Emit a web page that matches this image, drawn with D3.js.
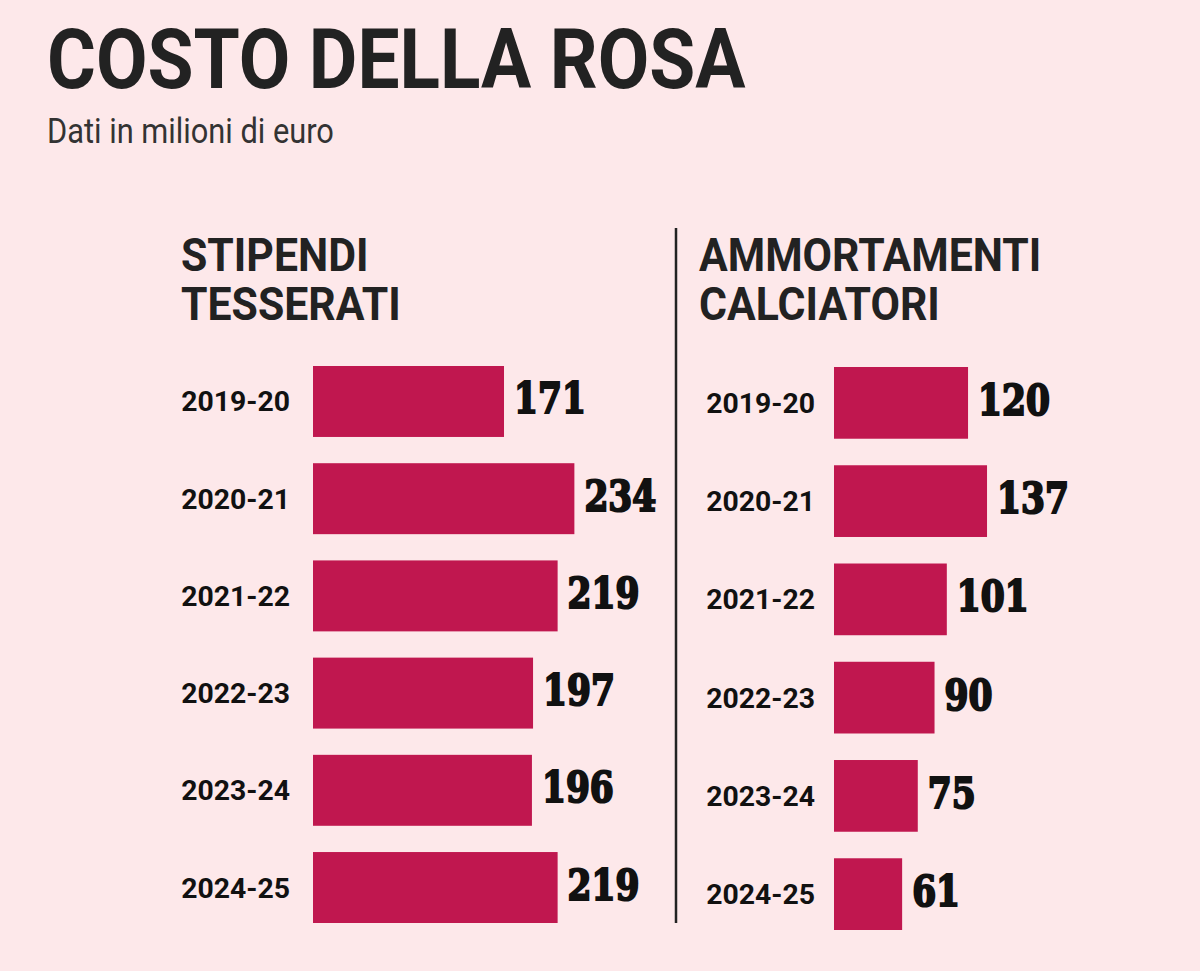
<!DOCTYPE html>
<html><head><meta charset="utf-8">
<script src="https://cdn.jsdelivr.net/npm/d3@7"></script>
<style>body{margin:0;background:#fde8ea}</style></head>
<body><svg id="c" width="1200" height="971"></svg>
<script>
const categories=["2019-20","2020-21","2021-22","2022-23","2023-24","2024-25"];
const stipendi=[171,234,219,197,196,219];
const ammortamenti=[120,137,101,90,75,61];
const panelTitles=[["STIPENDI","TESSERATI"],["AMMORTAMENTI","CALCIATORI"]];
const svg=d3.select("#c");
svg.append("rect").attr("width",1200).attr("height",971).attr("fill","#fde8ea");
function cond(sel,x,y,sx){return sel.attr("transform",`translate(${x},${y}) scale(${sx},1)`);}
cond(svg.append("text"),47,88,0.89).text("COSTO DELLA ROSA").attr("font-family","Roboto").attr("font-weight",700).attr("font-size",84).attr("fill","#222");
cond(svg.append("text"),47,143,0.88).text("Dati in milioni di euro").attr("font-family","Roboto").attr("font-size",35).attr("fill","#333");
svg.append("line").attr("x1",676).attr("x2",676).attr("y1",228).attr("y2",923).attr("stroke","#222").attr("stroke-width",2.5);
const x=d3.scaleLinear().domain([0,100]).range([0,111.7]);
const panels=[{data:stipendi,x0:313,tx:181,ly:290,y0:366,y1:923},{data:ammortamenti,x0:834,tx:699,ly:815,y0:367,y1:930}];
panels.forEach((p,i)=>{
  const y=d3.scaleBand().domain(categories).range([p.y0,p.y1]).paddingInner(0.27).paddingOuter(0);
  panelTitles[i].forEach((t,j)=>cond(svg.append("text"),p.tx,271+j*49,0.93).text(t).attr("font-family","Roboto").attr("font-weight",700).attr("font-size",46).attr("fill","#222"));
  const g=svg.append("g");
  categories.forEach((c,k)=>{
    const v=p.data[k],yy=y(c),h=y.bandwidth();
    g.append("rect").attr("x",p.x0).attr("y",yy).attr("width",x(v)).attr("height",h).attr("fill","#c0174f");
    cond(g.append("text"),p.ly,yy+h/2+10,1.05).text(c).attr("text-anchor","end").attr("font-family","Roboto").attr("font-weight",700).attr("font-size",27).attr("fill","#111");
    cond(g.append("text"),p.x0+x(v)+10,yy+h/2+12,0.82).text(v).attr("font-family","DejaVu Serif").attr("font-weight",900).attr("font-size",42).attr("fill","#111").attr("stroke","#111").attr("stroke-width",2.2);
  });
});
</script></body></html>
